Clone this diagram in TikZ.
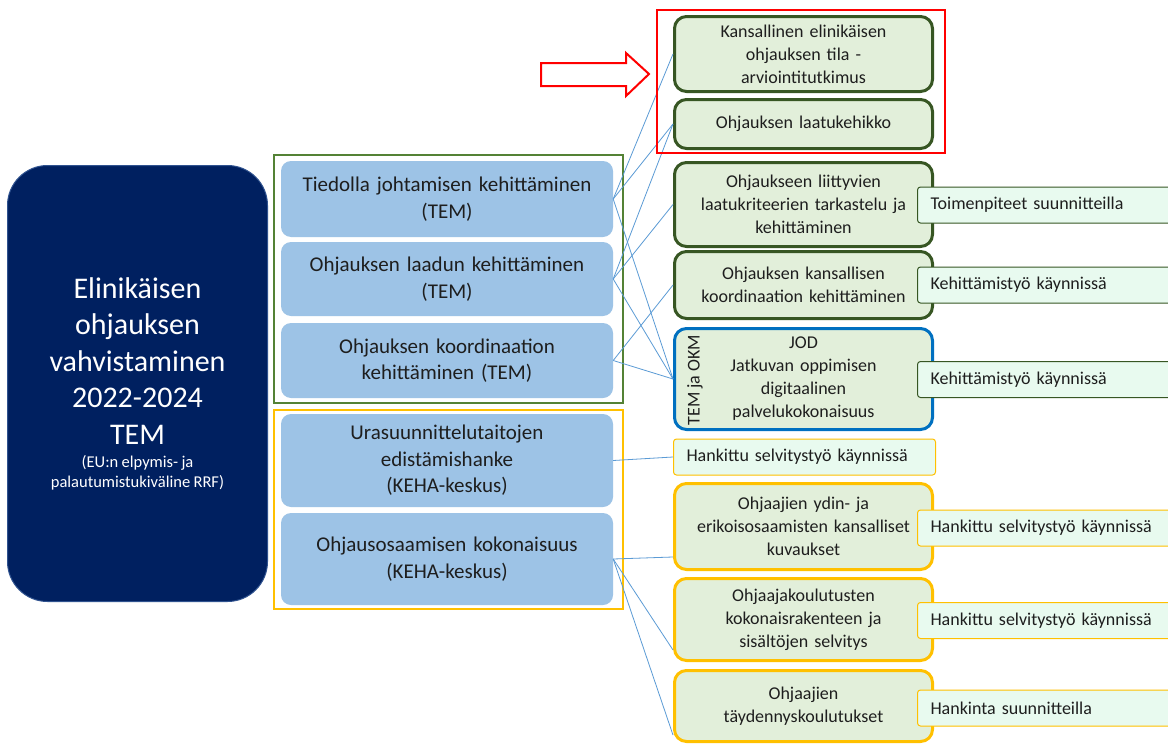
\documentclass[tikz,border=0pt]{standalone}
\usepackage{fontspec}
\setmainfont{Carlito}
\usetikzlibrary{calc}
\definecolor{navy}{HTML}{002060}
\definecolor{navyborder}{HTML}{2F528F}
\definecolor{bluefill}{HTML}{9DC3E6}
\definecolor{gframe}{HTML}{548235}
\definecolor{yel}{HTML}{FFC000}
\definecolor{gfill}{HTML}{E2EFDA}
\definecolor{gborder}{HTML}{375623}
\definecolor{jodblue}{HTML}{0070C0}
\definecolor{mint}{HTML}{E8FAEF}
\definecolor{lineblue}{HTML}{5B9BD5}
\definecolor{txt}{HTML}{1E1E1E}
\tikzset{
  bluebox/.style={fill=bluefill, rounded corners=10pt, minimum width=332pt, text width=320pt, align=center, inner sep=0pt, text=txt, font=\fontsize{21}{26.5}\selectfont},
  gbox/.style={draw=gborder, line width=3pt, fill=gfill, rounded corners=12pt, minimum width=258pt, text width=250pt, align=center, inner sep=0pt, text=txt, font=\fontsize{18}{23}\selectfont},
  ybox/.style={gbox, draw=yel},
  jodbox/.style={gbox, draw=jodblue},
  status/.style={draw=gborder, line width=1pt, fill=mint, rounded corners=3pt, minimum height=36pt, text width=234pt, inner xsep=13pt, inner ysep=0pt, align=left, anchor=west, text=txt, font=\fontsize{18}{22}\selectfont},
  ystatus/.style={status, draw=yel},
  conn/.style={draw=lineblue, line width=0.8pt},
  frame/.style={line width=2.5pt},
}
\begin{document}
\begin{tikzpicture}[x=1pt,y=-1pt]
\useasboundingbox (0,0) rectangle (1168,744);
\fill[white] (0,0) rectangle (1168,744);
\clip (0,0) rectangle (1168,744);

% left main box
\node[fill=navy, draw=navyborder, line width=1pt, rounded corners=40pt, minimum width=260pt, minimum height=436pt, text width=250pt, align=center, inner sep=0pt, text=white] (main) at (137.5,383.5)
  {\fontsize{30}{36.5}\selectfont Elinikäisen\\ohjauksen\\vahvistaminen\\2022-2024\\TEM\\[3pt]
   \fontsize{16.5}{20}\selectfont (EU:n elpymis- ja\\[4pt]palautumistukiväline RRF)};

% frames
\draw[frame, draw=gframe] (274,155) rectangle (623,403);
\draw[frame, draw=yel] (274,410) rectangle (623,609);

% blue boxes
\node[bluebox, minimum height=76pt] (tied) at (447,199) {Tiedolla johtamisen kehittäminen\\(TEM)};
\node[bluebox, minimum height=74pt] (laad) at (447,279) {Ohjauksen laadun kehittäminen\\(TEM)};
\node[bluebox, minimum height=75pt] (koord) at (447,360.5) {Ohjauksen koordinaation\\kehittäminen (TEM)};
\node[bluebox, minimum height=93pt] (ura) at (447,460.5) {Urasuunnittelutaitojen\\edistämishanke\\(KEHA-keskus)};
\node[bluebox, minimum height=92pt] (ohjo) at (447,559) {Ohjausosaamisen kokonaisuus\\(KEHA-keskus)};

% right boxes
\node[gbox, minimum height=75pt] (kans) at (803.5,54) {Kansallinen elinikäisen\\ohjauksen tila -\\arviointitutkimus};
\node[gbox, minimum height=49pt] (laatu) at (803.5,124) {Ohjauksen laatukehikko};
\node[gbox, minimum height=84pt] (liitt) at (803.5,204.5) {Ohjaukseen liittyvien\\laatukriteerien tarkastelu ja\\kehittäminen};
\node[gbox, minimum height=67pt] (kansk) at (803.5,285) {Ohjauksen kansallisen\\koordinaation kehittäminen};
\node[jodbox, minimum height=101pt] (jod) at (803.5,379) {JOD\\Jatkuvan oppimisen\\digitaalinen\\palvelukokonaisuus};
\node[rotate=90, text=txt, font=\fontsize{18}{22}\selectfont, inner sep=0pt] (temokm) at (695,380) {TEM ja OKM};
\node[ystatus, text width=236pt, minimum height=36pt] (hank0) at (673,457) {Hankittu selvitystyö käynnissä};
\node[ybox, minimum height=86pt] (ydin) at (803.5,526.5) {Ohjaajien ydin- ja\\erikoisosaamisten kansalliset\\kuvaukset};
\node[ybox, minimum height=82pt] (koul) at (803.5,619.5) {Ohjaajakoulutusten\\kokonaisrakenteen ja\\sisältöjen selvitys};
\node[ybox, minimum height=71pt] (tayd) at (803.5,706) {Ohjaajien\\täydennyskoulutukset};

% status boxes
\node[status] (s1) at (917,205) {Toimenpiteet suunnitteilla};
\node[status] (s2) at (917,285) {Kehittämistyö käynnissä};
\node[status] (s3) at (917,379.5) {Kehittämistyö käynnissä};
\node[ystatus] (s4) at (917,528) {Hankittu selvitystyö käynnissä};
\node[ystatus] (s5) at (917,620.5) {Hankittu selvitystyö käynnissä};
\node[ystatus] (s6) at (917,708) {Hankinta suunnitteilla};

% connectors
\draw[conn] (tied.east) -- (kans.west);
\draw[conn] (tied.east) -- (laatu.west);
\draw[conn] (tied.east) -- (jod.west);
\draw[conn] (laad.east) -- (laatu.west);
\draw[conn] (laad.east) -- (liitt.west);
\draw[conn] (laad.east) -- (jod.west);
\draw[conn] (koord.east) -- (kansk.west);
\draw[conn] (koord.east) -- (jod.west);
\draw[conn] (ura.east) -- (hank0.west);
\draw[conn] (ohjo.east) -- ($(ydin.west)+(0,30.5)$);
\draw[conn] (ohjo.east) -- ($(koul.west)+(0,30.5)$);
\draw[conn] (ohjo.east) -- ($(tayd.west)+(0,29)$);

% red highlight
\node[draw=red, line width=2.5pt, minimum width=288pt, minimum height=143pt, inner sep=0pt] (redbox) at (801,81.5) {};
\draw[red, line width=2pt, fill=white] (541,63) -- (626,63) -- (626,53) -- (649,74) -- (626,96) -- (626,86) -- (541,86) -- cycle;
\end{tikzpicture}
\end{document}
